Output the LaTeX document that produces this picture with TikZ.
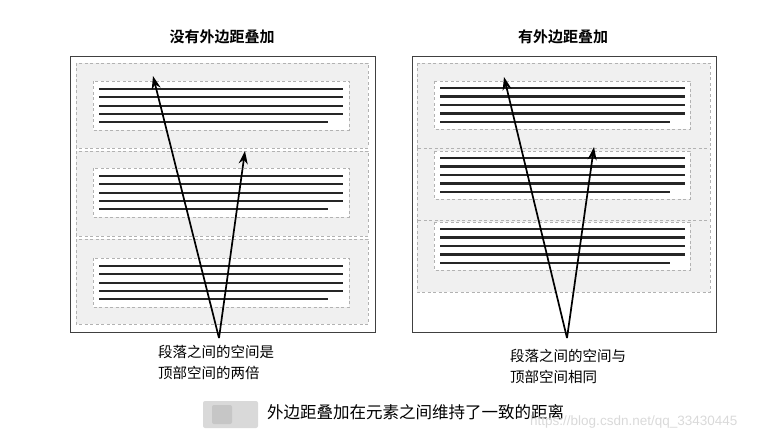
\documentclass[tikz,border=0pt]{standalone}
\usepackage{fontspec}
\usetikzlibrary{arrows.meta}
\newfontfamily\cjk{Noto Sans CJK SC}
\newfontfamily\cjkb{Noto Sans CJK SC Bold}
\newfontfamily\wmfont{Liberation Sans}
\begin{document}
\begin{tikzpicture}[x=1pt,y=-1pt,
  mbox/.style={draw=gray!60, dash pattern=on 3pt off 2.5pt, line width=0.6pt, fill=gray!12},
  cbox/.style={draw=gray!60, dash pattern=on 3pt off 2.5pt, line width=0.6pt, fill=white},
  frame/.style={draw=black!75, line width=0.9pt},
  tline/.style={line width=2.1pt, black!85},
  arr/.style={line width=1.7pt, -{Stealth[length=13pt,width=9pt]}},
  ttl/.style={font=\cjkb\fontsize{15}{17}\selectfont},
  lab/.style={font=\cjk\fontsize{14.5}{21}\selectfont, align=left, anchor=north west, inner sep=0pt},
]
\useasboundingbox (0,0) rectangle (784,438);

% ---------- left panel ----------
\node[ttl] (tl) at (222,37) {没有外边距叠加};
\draw[frame, fill=white] (70,56) rectangle (375,332);
\draw[mbox] (76,63) rectangle (368,148);
\draw[mbox] (76,151) rectangle (368,236);
\draw[mbox] (76,239) rectangle (368,324);
\foreach \t in {81,168,258}{
  \draw[cbox] (93,\t) rectangle (349,\t+49);
  \foreach \i in {0,1,2,3}{
    \draw[tline] (99,\t+8+\i*8.3) -- (343,\t+8+\i*8.3);
  }
  \draw[tline] (99,\t+8+4*8.3) -- (328,\t+8+4*8.3);
}
\coordinate (lo) at (219,338);
\coordinate (lt1) at (153,76);
\coordinate (lt2) at (245,151);
\draw[arr] (lo) -- (lt1);
\draw[arr] (lo) -- (lt2);
\node[lab] (ll) at (158,345) {段落之间的空间是\\顶部空间的两倍};

% ---------- right panel ----------
\node[ttl] (tr) at (563,37) {有外边距叠加};
\draw[frame, fill=white] (412,56) rectangle (716,332);
\draw[mbox] (417,63) rectangle (710,148);
\draw[mbox] (417,148) rectangle (710,220);
\draw[mbox] (417,220) rectangle (710,292);
\foreach \t in {81,151,222}{
  \draw[cbox] (434,\t) rectangle (690,\t+48);
  \foreach \i in {0,1,2,3}{
    \draw[tline] (440,\t+7+\i*8.5) -- (685,\t+7+\i*8.5);
  }
  \draw[tline] (440,\t+7+4*8.5) -- (670,\t+7+4*8.5);
}
\coordinate (ro) at (567,338);
\coordinate (rt1) at (504,77);
\coordinate (rt2) at (594,147);
\draw[arr] (ro) -- (rt1);
\draw[arr] (ro) -- (rt2);
\node[lab] (rl) at (510,349) {段落之间的空间与\\顶部空间相同};

% ---------- caption ----------
\fill[gray!30, rounded corners=2pt] (203,401) rectangle (258,428);
\fill[gray!45, rounded corners=2pt] (212,405) rectangle (232,424);
\node[font=\cjk\fontsize{16.5}{18}\selectfont, anchor=west, inner sep=0pt] (cap) at (267,412) {外边距叠加在元素之间维持了一致的距离};
\node[font=\wmfont\fontsize{13.5}{15}\selectfont, text=gray!30, anchor=west, inner sep=0pt] (wm) at (530,422) {https://blog.csdn.net/qq\_33430445};
\end{tikzpicture}
\end{document}
